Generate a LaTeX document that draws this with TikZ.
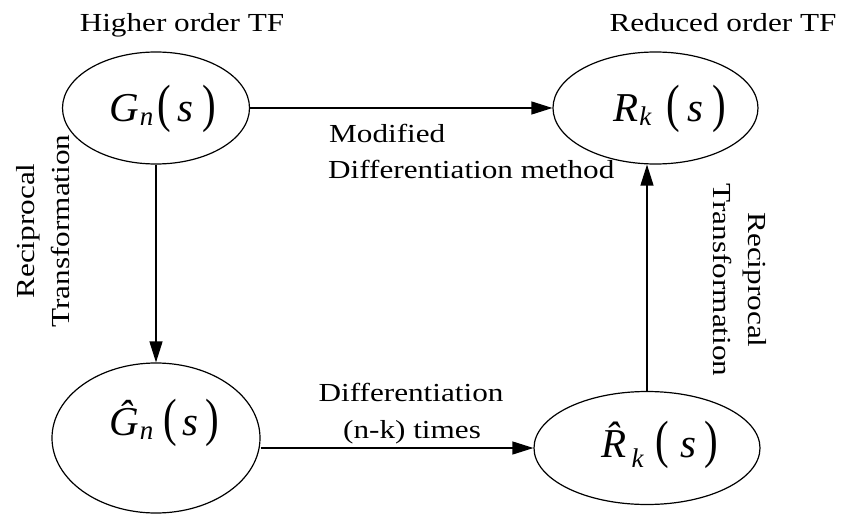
\documentclass[tikz,border=0pt]{standalone}
\usepackage{graphicx}
\usepackage{fontspec}
\setmainfont{Liberation Serif}[FakeStretch=1.2]
\newfontfamily\mathfnt{Liberation Serif}
\usetikzlibrary{shapes.geometric,arrows.meta}
% #1 size, #2 letter, #3 subscript, #4 kern before sub, #5 kern sub-paren, #6 kern paren-s, #7 kern s-paren, #8 sub drop
\newcommand{\tfx}[8]{{\mathfnt\fontsize{#1}{#1}\selectfont\textit{#2}\kern#4\raisebox{-#8}{\fontsize{27}{27}\selectfont\textit{#3}}\kern#5\scalebox{1}[1.28]{(}\kern#6\textit{s}\kern#7\scalebox{1}[1.28]{)}}}
\begin{document}
\begin{tikzpicture}[x=1pt,y=1pt,
  ell/.style={draw,ellipse,line width=1.2pt,inner sep=0pt},
  mtxt/.style={anchor=base west,inner sep=0pt},
  lbl/.style={font=\fontsize{26}{35}\selectfont,inner sep=0pt},
  conn/.style={line width=1.2pt,-{Triangle[length=21pt,width=13pt]}}]
\useasboundingbox (0,0) rectangle (843,515);
\node[ell,minimum width=187pt,minimum height=112pt] (Gn) at (156,407) {};
\node[ell,minimum width=205pt,minimum height=112pt] (Rk) at (655.5,407) {};
\node[ell,minimum width=208pt,minimum height=150pt] (Gh) at (156,77) {};
\node[ell,minimum width=226pt,minimum height=113pt] (Rh) at (647,67) {};
% math texts
\node[mtxt] (Gnt) at (109,393) {\tfx{41}{G}{n}{1pt}{4pt}{7pt}{9pt}{4pt}};
\node[mtxt] (Rkt) at (613,393) {\tfx{41}{R}{k}{1pt}{15pt}{7pt}{9pt}{4pt}};
\node[mtxt] (Ght) at (109,80) {\tfx{41}{\^{G}}{n}{1pt}{10pt}{6pt}{7pt}{4pt}};
\node[mtxt] (Rht) at (601,58) {\tfx{41}{\^{R}}{k}{-10pt}{12pt}{11pt}{8pt}{10pt}};
% labels
\node[lbl,anchor=base] (hi) at (182,483) {Higher order TF};
\node[lbl,anchor=base] (re) at (723,483) {Reduced order TF};
\node[lbl,anchor=base west] (m1) at (329,372) {Modified};
\node[lbl,anchor=base west] (m2) at (328,337) {Differentiation method};
\node[lbl,anchor=base] (d1) at (411,114) {Differentiation};
\node[lbl,anchor=base] (d2) at (412,77) {(n-k) times};
\node[lbl,align=center,rotate=90] (lt) at (43,284) {Reciprocal\\Transformation};
\node[lbl,align=center,rotate=-90] (rt) at (740,235) {Reciprocal\\Transformation};
% connectors
\draw[conn] (Gn.east) -- (Rk.west);
\draw[conn] (Gn.south) -- (Gh.north);
\draw[conn] (Gh.east |- Rh.west) -- (Rh.west);
\draw[conn] (Rh.north) -- (Rh.north |- Rk.south);
\end{tikzpicture}
\end{document}
